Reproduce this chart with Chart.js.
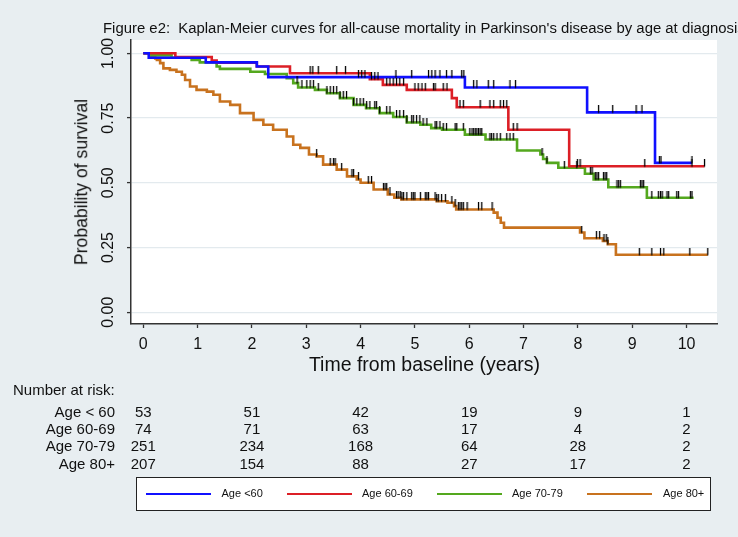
<!DOCTYPE html>
<html>
<head>
<meta charset="utf-8">
<script src="https://cdn.jsdelivr.net/npm/chart.js@4.4.1/dist/chart.umd.min.js"></script>
<style>
  html, body { margin: 0; padding: 0; }
  body {
    width: 738px; height: 537px; position: relative; overflow: hidden;
    background: #e8eef1; color: #111;
    font-family: "Liberation Sans", Arial, sans-serif;
  }
  #wrap { position: absolute; left: 0; top: 0; width: 738px; height: 537px; }
  .txt { position: absolute; white-space: pre; line-height: 1; }
  #legendBox {
    position: absolute; left: 136px; top: 477px; width: 573px; height: 32px;
    background: #fff; border: 1.5px solid #222;
  }
  .legLine { position: absolute; height: 2.5px; width: 65px; }
</style>
</head>
<body>
<div id="wrap"><canvas id="kmChart" width="738" height="537"></canvas></div>

<div class="txt" id="title" style="left:103px; top:20.7px; font-size:14.9px">Figure e2:  Kaplan-Meier curves for all-cause mortality in Parkinson's disease by age at diagnosis</div>
<div class="txt" id="yTitle" style="font-size:17.6px">Probability of survival</div>
<div class="txt" id="xTitle" style="font-size:19.5px">Time from baseline (years)</div>
<div id="riskTable"></div>
<div id="legendBox"></div>

<script>
// axis ticks
const xTicks = [0, 1, 2, 3, 4, 5, 6, 7, 8, 9, 10];
const yTicks = [0, 0.25, 0.5, 0.75, 1];

// Age < 60
const under60Time = [0, 0.1, 1.15, 2.09, 2.3, 5.92, 8.17, 9.42, 10.1];
const under60Surv = [1, 0.983, 0.965, 0.949, 0.908, 0.868, 0.772, 0.577, 0.577];
const under60Censor = [3.96, 4.02, 4.08, 4.65, 4.94, 5.25, 5.31, 5.37, 5.46, 5.58, 5.68, 5.86, 5.9,
  6.08, 6.14, 6.35, 6.45, 6.75, 6.85, 8.38, 8.64, 9.07, 9.18, 9.5, 9.53, 10.1];

// Age 60-69
const age60Time = [0, 0.59, 1.26, 1.35, 2.09, 2.7, 4.17, 4.41, 4.85, 5.68, 5.77, 6.72, 7.84, 10.33];
const age60Surv = [1, 0.986, 0.972, 0.964, 0.949, 0.923, 0.9, 0.878, 0.859, 0.827, 0.792, 0.705, 0.564, 0.564];
const age60Censor = [3.07, 3.12, 3.22, 3.56, 3.72, 4.2, 4.26, 4.32, 4.48, 4.54, 4.6, 4.66, 4.72, 4.79,
  5.0, 5.06, 5.13, 5.19, 5.34, 5.37, 5.52, 5.59, 5.83, 5.89, 6.2, 6.38, 6.45, 6.57, 6.63, 6.69,
  6.81, 6.88, 7.99, 8.04, 9.23, 10.1, 10.33];

// Age 70-79
const age70Time = [0, 0.15, 0.52, 0.89, 1.04, 1.35, 1.41, 1.97, 2.24, 2.64, 2.76, 2.85, 3.16, 3.38,
  3.62, 3.87, 4.1, 4.35, 4.6, 4.85, 5.1, 5.3, 5.5, 5.92, 6.3, 6.88, 7.31, 7.36, 7.43, 7.64, 8.13,
  8.29, 8.56, 9.27, 10.13];
const age70Surv = [1, 0.992, 0.983, 0.974, 0.965, 0.949, 0.94, 0.929, 0.92, 0.904, 0.885, 0.868, 0.859,
  0.846, 0.827, 0.801, 0.788, 0.769, 0.754, 0.733, 0.724, 0.711, 0.705, 0.686, 0.667, 0.625, 0.609,
  0.592, 0.577, 0.558, 0.535, 0.513, 0.483, 0.442, 0.442];
const age70Censor = [2.83, 2.92, 3.01, 3.07, 3.13, 3.22, 3.38, 3.44, 3.5, 3.56, 3.62, 3.68, 3.74, 3.87,
  3.93, 3.99, 4.05, 4.11, 4.17, 4.26, 4.29, 4.35, 4.48, 4.54, 4.66, 4.72, 4.79, 4.85, 4.94, 4.97,
  5.03, 5.09, 5.15, 5.22, 5.37, 5.4, 5.46, 5.52, 5.58, 5.74, 5.77, 5.89, 6.01, 6.05, 6.08, 6.11,
  6.14, 6.17, 6.2, 6.23, 6.38, 6.41, 6.45, 6.51, 6.57, 6.69, 6.75, 6.81, 7.34, 7.43, 7.75, 7.98,
  8.23, 8.26, 8.32, 8.35, 8.38, 8.47, 8.5, 8.53, 8.72, 8.75, 8.78, 9.15, 9.18, 9.21, 9.36, 9.48,
  9.52, 9.55, 9.64, 9.67, 9.82, 9.85, 10.07, 10.1];

// Age 80+
const age80Time = [0, 0.15, 0.22, 0.25, 0.31, 0.37, 0.49, 0.61, 0.71, 0.77, 0.86, 0.98, 1.17, 1.29,
  1.41, 1.6, 1.78, 2.03, 2.21, 2.39, 2.64, 2.76, 2.89, 3.05, 3.19, 3.31, 3.56, 3.75, 3.93, 4.0,
  4.24, 4.5, 4.62, 4.75, 5.4, 5.6, 5.72, 5.76, 6.45, 6.52, 6.58, 6.64, 8.04, 8.12, 8.46, 8.55,
  8.7, 10.39];
const age80Surv = [1, 0.99, 0.98, 0.974, 0.962, 0.942, 0.936, 0.929, 0.917, 0.897, 0.872, 0.859,
  0.852, 0.84, 0.814, 0.801, 0.769, 0.743, 0.724, 0.705, 0.679, 0.647, 0.635, 0.609, 0.602, 0.57,
  0.551, 0.525, 0.513, 0.5, 0.474, 0.455, 0.442, 0.436, 0.429, 0.423, 0.41, 0.397, 0.385, 0.365,
  0.346, 0.327, 0.308, 0.286, 0.275, 0.263, 0.222, 0.222];
const age80Censor = [3.19, 3.44, 3.5, 3.53, 3.65, 3.84, 3.87, 3.96, 4.14, 4.2, 4.42, 4.45, 4.48, 4.54,
  4.66, 4.69, 4.73, 4.76, 4.79, 4.85, 4.94, 4.97, 5.0, 5.1, 5.19, 5.22, 5.25, 5.37, 5.4, 5.43,
  5.49, 5.56, 5.68, 5.74, 5.8, 5.83, 5.86, 5.89, 5.96, 6.17, 6.23, 6.42, 8.07, 8.34, 8.4, 8.48,
  8.52, 8.55, 9.13, 9.36, 9.52, 9.58, 10.06, 10.39];

// number at risk table
const riskTimes = [0, 2, 4, 6, 8, 10];
const riskRowLabels = ['Age < 60', 'Age 60-69', 'Age 70-79', 'Age 80+'];
const riskUnder60 = [53, 51, 42, 19, 9, 1];
const riskAge60 = [74, 71, 63, 17, 4, 2];
const riskAge70 = [251, 234, 168, 64, 28, 2];
const riskAge80 = [207, 154, 88, 27, 17, 2];

const groupLabels = ['Age <60', 'Age 60-69', 'Age 70-79', 'Age 80+'];
const groupColors = ['#1010ff', '#dc1f26', '#54a81e', '#c8721e'];

const groups = [
  { time: under60Time, surv: under60Surv, censor: under60Censor },
  { time: age60Time, surv: age60Surv, censor: age60Censor },
  { time: age70Time, surv: age70Surv, censor: age70Censor },
  { time: age80Time, surv: age80Surv, censor: age80Censor }
];

function survAt(g, t) {
  let s = g.surv[0];
  for (let i = 0; i < g.time.length; i++) {
    if (g.time[i] <= t) s = g.surv[i];
  }
  return s;
}

// small vertical tick used for censored observations (sits on top of the line)
const censorMark = document.createElement('canvas');
censorMark.width = 3;
censorMark.height = 14;
const cm = censorMark.getContext('2d');
cm.fillStyle = '#000';
cm.fillRect(0.9, 0, 1.3, 7.5);

const censorSets = groups.map((g, i) => ({
  label: groupLabels[i] + ' censored',
  data: g.censor.map(t => ({ x: t, y: survAt(g, t) })),
  showLine: false,
  pointStyle: censorMark,
  pointRadius: 3,
  pointHoverRadius: 3
}));

const curveSets = groups.map((g, i) => ({
  label: groupLabels[i],
  data: g.time.map((t, j) => ({ x: t, y: g.surv[j] })),
  borderColor: groupColors[i],
  borderWidth: 2.6,
  stepped: true,
  pointRadius: 0,
  fill: false
}));

const plotBg = {
  id: 'plotBg',
  beforeDraw(chart) {
    const { ctx, chartArea: a } = chart;
    ctx.save();
    ctx.fillStyle = '#ffffff';
    ctx.fillRect(a.left, a.top, a.right - a.left, a.bottom - a.top);
    ctx.restore();
  }
};

const tickFont = { family: '"Liberation Sans", Arial, sans-serif', size: 16 };

// scale boxes get a fixed size so the plot region lands where the original one is
const Y_AXIS_W = 40;
const X_AXIS_H = 40;

const chart = new Chart(document.getElementById('kmChart'), {
  type: 'line',
  data: { datasets: censorSets.concat(curveSets) },
  options: {
    responsive: false,
    animation: false,
    events: [],
    layout: { padding: { left: 131 - Y_AXIS_W, top: 40, right: 21, bottom: 213 - X_AXIS_H } },
    plugins: { legend: { display: false }, tooltip: { enabled: false } },
    scales: {
      x: {
        type: 'linear',
        min: -0.2264,
        max: 10.561,
        afterFit: s => { s.height = X_AXIS_H; },
        afterBuildTicks: s => { s.ticks = xTicks.map(v => ({ value: v })); },
        grid: { display: true, drawOnChartArea: false, drawTicks: true, tickLength: 4, tickColor: '#333', tickWidth: 1.3 },
        border: { display: true, color: '#333', width: 1.5 },
        ticks: { color: '#111', font: tickFont, padding: 7, maxRotation: 0, autoSkip: false }
      },
      y: {
        type: 'linear',
        min: -0.0452,
        max: 1.0514,
        afterFit: s => { s.width = Y_AXIS_W; },
        afterBuildTicks: s => { s.ticks = yTicks.map(v => ({ value: v })); },
        grid: { display: true, drawOnChartArea: true, color: '#e3eaee', lineWidth: 1.2, drawTicks: true, tickLength: 4, tickColor: '#333', tickWidth: 1.3 },
        border: { display: true, color: '#333', width: 1.5 },
        ticks: {
          color: '#111', font: tickFont, padding: 3,
          minRotation: 90, maxRotation: 90, crossAlign: 'center', autoSkip: false,
          callback: v => v.toFixed(2)
        }
      }
    }
  },
  plugins: [plotBg]
});

// axis titles
const yTitle = document.getElementById('yTitle');
yTitle.style.left = '82.4px';
yTitle.style.top = '181.5px';
yTitle.style.transform = 'translate(-50%, -50%) rotate(-90deg)';

const xTitle = document.getElementById('xTitle');
xTitle.style.left = '424.5px';
xTitle.style.top = '354.5px';
xTitle.style.transform = 'translateX(-50%)';

// number at risk, placed under the x scale
const xs = chart.scales.x;
const table = document.getElementById('riskTable');
function addText(parent, text, left, top, size, center) {
  const d = document.createElement('div');
  d.className = 'txt';
  d.textContent = text;
  d.style.left = left + 'px';
  d.style.top = top + 'px';
  d.style.fontSize = size + 'px';
  if (center) d.style.transform = 'translateX(-50%)';
  parent.appendChild(d);
  return d;
}
addText(table, 'Number at risk:', 13, 382.3, 15, false);
const riskRows = [riskUnder60, riskAge60, riskAge70, riskAge80];
const rowTops = [404, 421.2, 438.4, 455.6];
riskRows.forEach((row, r) => {
  const lab = addText(table, riskRowLabels[r], 0, rowTops[r], 15, false);
  lab.style.left = 'auto';
  lab.style.right = (738 - 115) + 'px';
  row.forEach((n, c) => {
    addText(table, String(n), xs.getPixelForValue(riskTimes[c]), rowTops[r], 15, true);
  });
});

// legend
const legend = document.getElementById('legendBox');
const legLineX = [8.5, 150, 300, 450];
const legTextX = [84.5, 225, 375, 526];
groupLabels.forEach((name, i) => {
  const ln = document.createElement('div');
  ln.className = 'legLine';
  ln.style.left = legLineX[i] + 'px';
  ln.style.top = '14.8px';
  ln.style.background = groupColors[i];
  legend.appendChild(ln);
  addText(legend, name, legTextX[i], 10, 11, false);
});
</script>
</body>
</html>
